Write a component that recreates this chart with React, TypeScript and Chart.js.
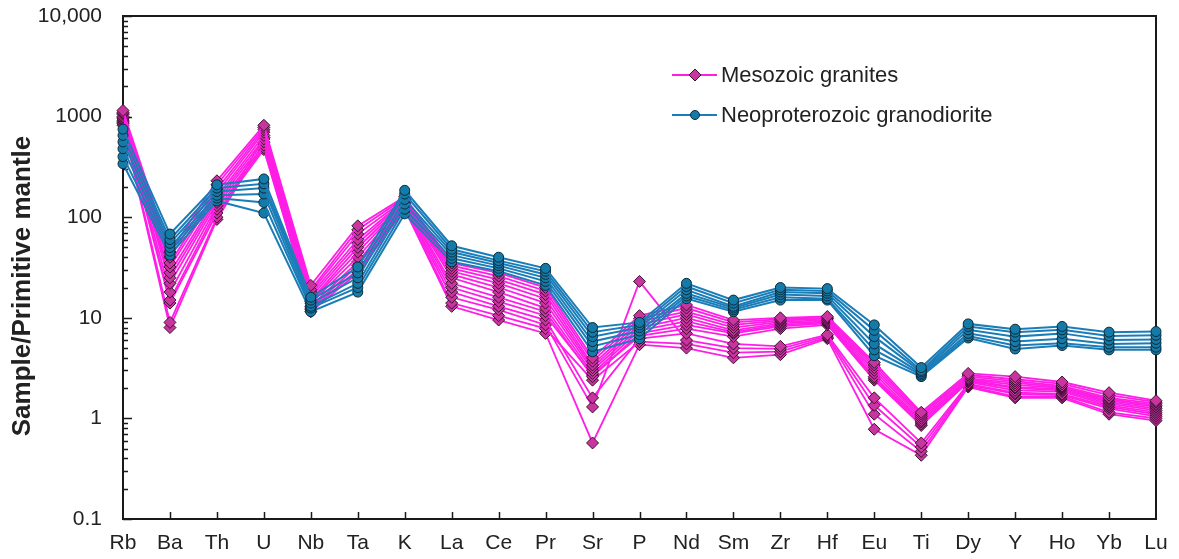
import React, { useEffect, useRef } from "react";
import { Chart, registerables } from "chart.js";

Chart.register(...registerables);

// Element order on the x axis
const ELEMENTS = [
  "Rb", "Ba", "Th", "U", "Nb", "Ta", "K", "La", "Ce", "Pr", "Sr", "P",
  "Nd", "Sm", "Zr", "Hf", "Eu", "Ti", "Dy", "Y", "Ho", "Yb", "Lu",
];

// Primitive-mantle normalised values, Mesozoic granites
const MZ01 = [1150, 45, 230, 820, 21, 82, 160, 35, 28, 20, 4, 10.5, 13.4, 9.5, 10, 10.3, 3.6, 1.15, 2.8, 2.6, 2.3, 1.8, 1.5];
const MZ02 = [1100, 40, 210, 780, 19, 75, 155, 33, 26, 18.5, 3.7, 9.8, 12.5, 9, 9.7, 10, 3.4, 1.1, 2.7, 2.45, 2.2, 1.7, 1.45];
const MZ03 = [1080, 35, 190, 740, 18, 68, 150, 31, 24, 17, 3.4, 9.2, 11.5, 8.5, 9.4, 9.8, 3.2, 1.05, 2.6, 2.35, 2.1, 1.6, 1.4];
const MZ04 = [1050, 32, 175, 700, 17, 60, 148, 29, 22, 15.5, 3.2, 8.6, 10.8, 8, 9.1, 9.5, 3.0, 1.0, 2.5, 2.25, 2.05, 1.55, 1.35];
const MZ05 = [1000, 28, 160, 650, 16, 55, 145, 27, 20, 14, 3.0, 8, 10, 7.5, 8.8, 9.2, 2.8, 0.95, 2.45, 2.15, 2.0, 1.5, 1.3];
const MZ06 = [980, 25, 150, 600, 15, 50, 140, 25, 18, 12.5, 2.8, 7.5, 9.2, 7.2, 8.5, 9, 2.6, 0.92, 2.4, 2.05, 1.95, 1.45, 1.25];
const MZ07 = [950, 22, 140, 560, 14.5, 45, 138, 22, 16, 11.5, 2.6, 7, 8.5, 7, 8.2, 8.8, 2.5, 0.88, 2.35, 2.0, 1.9, 1.4, 1.2];
const MZ08 = [920, 18, 130, 520, 14, 40, 135, 20, 14.5, 10.5, 2.7, 6.6, 7.8, 6.5, 7.8, 8.5, 2.4, 0.85, 2.3, 1.9, 1.85, 1.35, 1.15];
const MZ09 = [900, 15, 120, 490, 13, 36, 130, 18, 13, 9.5, 1.6, 6.2, 7, 5.5, 5.2, 6.8, 1.6, 0.57, 2.2, 1.8, 1.75, 1.3, 1.1];
const MZ10 = [870, 14, 110, 470, 12.5, 33, 128, 16, 12, 8.5, 1.3, 23, 6, 5, 4.9, 6.6, 1.35, 0.52, 2.15, 1.75, 1.7, 1.25, 1.05];
const MZ11 = [850, 9, 100, 620, 12, 30, 125, 14, 10.5, 7.8, 2.4, 5.8, 5.5, 4.5, 4.6, 6.4, 1.1, 0.47, 2.1, 1.65, 1.65, 1.15, 1.0];
const MZ12 = [820, 8, 95, 550, 11.5, 28, 120, 13, 9.5, 7, 0.57, 5.4, 5, 4, 4.3, 6.2, 0.78, 0.43, 2.05, 1.6, 1.6, 1.1, 0.95];

// Primitive-mantle normalised values, Neoproterozoic granodiorite
const NP01 = [750, 68, 210, 240, 16, 32, 185, 52, 40, 31, 8, 9, 22, 15, 20, 19.5, 8.5, 3.2, 8.7, 7.7, 8.2, 7.2, 7.3];
const NP02 = [650, 60, 195, 215, 15, 28, 170, 48, 37, 29, 7.2, 8.5, 20.5, 14, 19, 18.5, 7.5, 3.0, 8.2, 7.2, 7.6, 6.6, 6.7];
const NP03 = [560, 55, 180, 195, 14, 25, 150, 45, 35, 27, 6.5, 8, 19, 13, 18, 17.5, 6.5, 2.9, 7.6, 6.5, 7.0, 6.0, 6.1];
const NP04 = [480, 50, 165, 170, 13, 22, 135, 42, 33, 25, 5.8, 7.4, 17.5, 12.5, 17, 16.5, 5.5, 2.8, 7.0, 5.8, 6.2, 5.5, 5.6];
const NP05 = [400, 46, 155, 140, 12.5, 20, 120, 39, 31, 23, 5.2, 6.8, 16.5, 12, 16, 15.5, 4.8, 2.7, 6.6, 5.3, 5.6, 5.1, 5.1];
const NP06 = [340, 42, 145, 110, 11.5, 18, 108, 36, 29, 21, 4.6, 6.2, 15.5, 11.5, 15, 15, 4.2, 2.6, 6.3, 4.9, 5.3, 4.8, 4.8];

const MESOZOIC = [MZ01, MZ02, MZ03, MZ04, MZ05, MZ06, MZ07, MZ08, MZ09, MZ10, MZ11, MZ12];
const NEOPROTEROZOIC = [NP01, NP02, NP03, NP04, NP05, NP06];

const Y_TICKS = [0.1, 1, 10, 100, 1000, 10000];
const LEGEND_LABELS = ["Mesozoic granites", "Neoproterozoic granodiorite"];
const Y_TITLE = "Sample/Primitive mantle";

const FONT = 'Arial, "Liberation Sans", sans-serif';
const TEXT = "#222222";

const PINK_LINE = "#FF1EE6";
const PINK_FILL = "#C8359F";
const PINK_EDGE = "#3A0F30";
const BLUE_LINE = "#1A7DB8";
const BLUE_FILL = "#147AA8";
const BLUE_EDGE = "#0B2A3A";

function drawMarker(ctx: CanvasRenderingContext2D, kind: string, x: number, y: number, r: number) {
  ctx.beginPath();
  if (kind === "diamond") {
    ctx.moveTo(x, y - r);
    ctx.lineTo(x + r, y);
    ctx.lineTo(x, y + r);
    ctx.lineTo(x - r, y);
    ctx.closePath();
  } else {
    ctx.arc(x, y, r, 0, Math.PI * 2);
  }
  ctx.fill();
  ctx.stroke();
}

// Frame, inward tick marks, rotated y title and the in-plot legend
const decorations = {
  id: "decorations",
  beforeDatasetsDraw(chart: any) {
    const { ctx, chartArea, scales } = chart;
    const { left, right, top, bottom } = chartArea;
    const x = scales.x;
    const y = scales.y;
    ctx.save();
    ctx.strokeStyle = "#1a1a1a";
    ctx.lineWidth = 1.5;
    ctx.beginPath();
    for (let e = -1; e < 4; e++) {
      for (let m = 1; m < 10; m++) {
        const v = m * Math.pow(10, e);
        const py = Math.round(y.getPixelForValue(v)) + 0.5;
        const len = m === 1 ? 9 : 5;
        ctx.moveTo(left, py);
        ctx.lineTo(left + len, py);
      }
    }
    const pTop = Math.round(y.getPixelForValue(10000)) + 0.5;
    ctx.moveTo(left, pTop);
    ctx.lineTo(left + 9, pTop);
    for (let i = 1; i < ELEMENTS.length - 1; i++) {
      const px = Math.round(x.getPixelForValue(i)) + 0.5;
      ctx.moveTo(px, bottom);
      ctx.lineTo(px, bottom - 7);
    }
    ctx.stroke();
    ctx.lineWidth = 2;
    ctx.strokeRect(left, top, right - left, bottom - top);

    // y-axis title
    ctx.fillStyle = TEXT;
    ctx.font = `bold 26px ${FONT}`;
    ctx.textAlign = "center";
    ctx.textBaseline = "middle";
    ctx.translate(23, 286);
    ctx.rotate(-Math.PI / 2);
    ctx.fillText(Y_TITLE, 0, 0);
    ctx.restore();
  },
  afterDraw(chart: any) {
    const { ctx } = chart;
    ctx.save();
    const rows = [
      { label: LEGEND_LABELS[0], y: 75, line: PINK_LINE, fill: PINK_FILL, edge: PINK_EDGE, kind: "diamond", r: 6 },
      { label: LEGEND_LABELS[1], y: 115, line: BLUE_LINE, fill: BLUE_FILL, edge: BLUE_EDGE, kind: "circle", r: 4.5 },
    ];
    for (const row of rows) {
      ctx.strokeStyle = row.line;
      ctx.lineWidth = 2;
      ctx.beginPath();
      ctx.moveTo(672, row.y);
      ctx.lineTo(717, row.y);
      ctx.stroke();
      ctx.fillStyle = row.fill;
      ctx.strokeStyle = row.edge;
      ctx.lineWidth = 1;
      drawMarker(ctx, row.kind, 695, row.y, row.r);
      ctx.fillStyle = TEXT;
      ctx.font = `22px ${FONT}`;
      ctx.textAlign = "left";
      ctx.textBaseline = "middle";
      ctx.fillText(row.label, 721, row.y + 1);
    }
    ctx.restore();
  },
};

export default function App() {
  const canvasRef = useRef<HTMLCanvasElement | null>(null);

  useEffect(() => {
    const canvas = canvasRef.current;
    if (!canvas) return;

    const pinkSets = MESOZOIC.map((values, i) => ({
      label: `${LEGEND_LABELS[0]} ${i + 1}`,
      data: values,
      borderColor: PINK_LINE,
      borderWidth: 1.8,
      pointStyle: "rectRot",
      pointRadius: 6,
      pointBackgroundColor: PINK_FILL,
      pointBorderColor: PINK_EDGE,
      pointBorderWidth: 1,
      tension: 0,
      clip: false,
      order: 1,
    }));
    const blueSets = NEOPROTEROZOIC.map((values, i) => ({
      label: `${LEGEND_LABELS[1]} ${i + 1}`,
      data: values,
      borderColor: BLUE_LINE,
      borderWidth: 2,
      pointStyle: "circle",
      pointRadius: 5,
      pointBackgroundColor: BLUE_FILL,
      pointBorderColor: BLUE_EDGE,
      pointBorderWidth: 1,
      tension: 0,
      clip: false,
      order: 0,
    }));

    const chart = new Chart(canvas, {
      type: "line",
      data: { labels: ELEMENTS, datasets: [...pinkSets, ...blueSets] as any },
      options: {
        animation: false,
        responsive: true,
        maintainAspectRatio: false,
        layout: { padding: { left: 0, top: 16, right: 23, bottom: 0 } },
        plugins: { legend: { display: false }, tooltip: { enabled: false } },
        scales: {
          x: {
            type: "category",
            offset: false,
            grid: { display: false, drawTicks: false },
            border: { display: false },
            ticks: {
              color: TEXT,
              font: { family: FONT, size: 21 },
              padding: 12,
              autoSkip: false,
              maxRotation: 0,
            },
            afterFit: (scale: any) => {
              scale.height = 40;
              scale.paddingLeft = 0;
              scale.paddingRight = 0;
            },
          },
          y: {
            type: "logarithmic",
            min: 0.1,
            max: 10000,
            grid: { display: false, drawTicks: false },
            border: { display: false },
            afterBuildTicks: (scale: any) => {
              scale.ticks = Y_TICKS.map((v) => ({ value: v }));
            },
            ticks: {
              color: TEXT,
              font: { family: FONT, size: 21 },
              padding: 21,
              callback: (v: any) => (Number(v) === 10000 ? "10,000" : String(v)),
            },
            afterFit: (scale: any) => {
              scale.width = 123;
              scale.paddingTop = 0;
              scale.paddingBottom = 0;
            },
          },
        },
      },
      plugins: [decorations],
    });

    return () => chart.destroy();
  }, []);

  return (
    <div style={{ position: "fixed", left: 0, top: 0, width: 1179, height: 559, background: "#fff" }}>
      <canvas ref={canvasRef} />
    </div>
  );
}
